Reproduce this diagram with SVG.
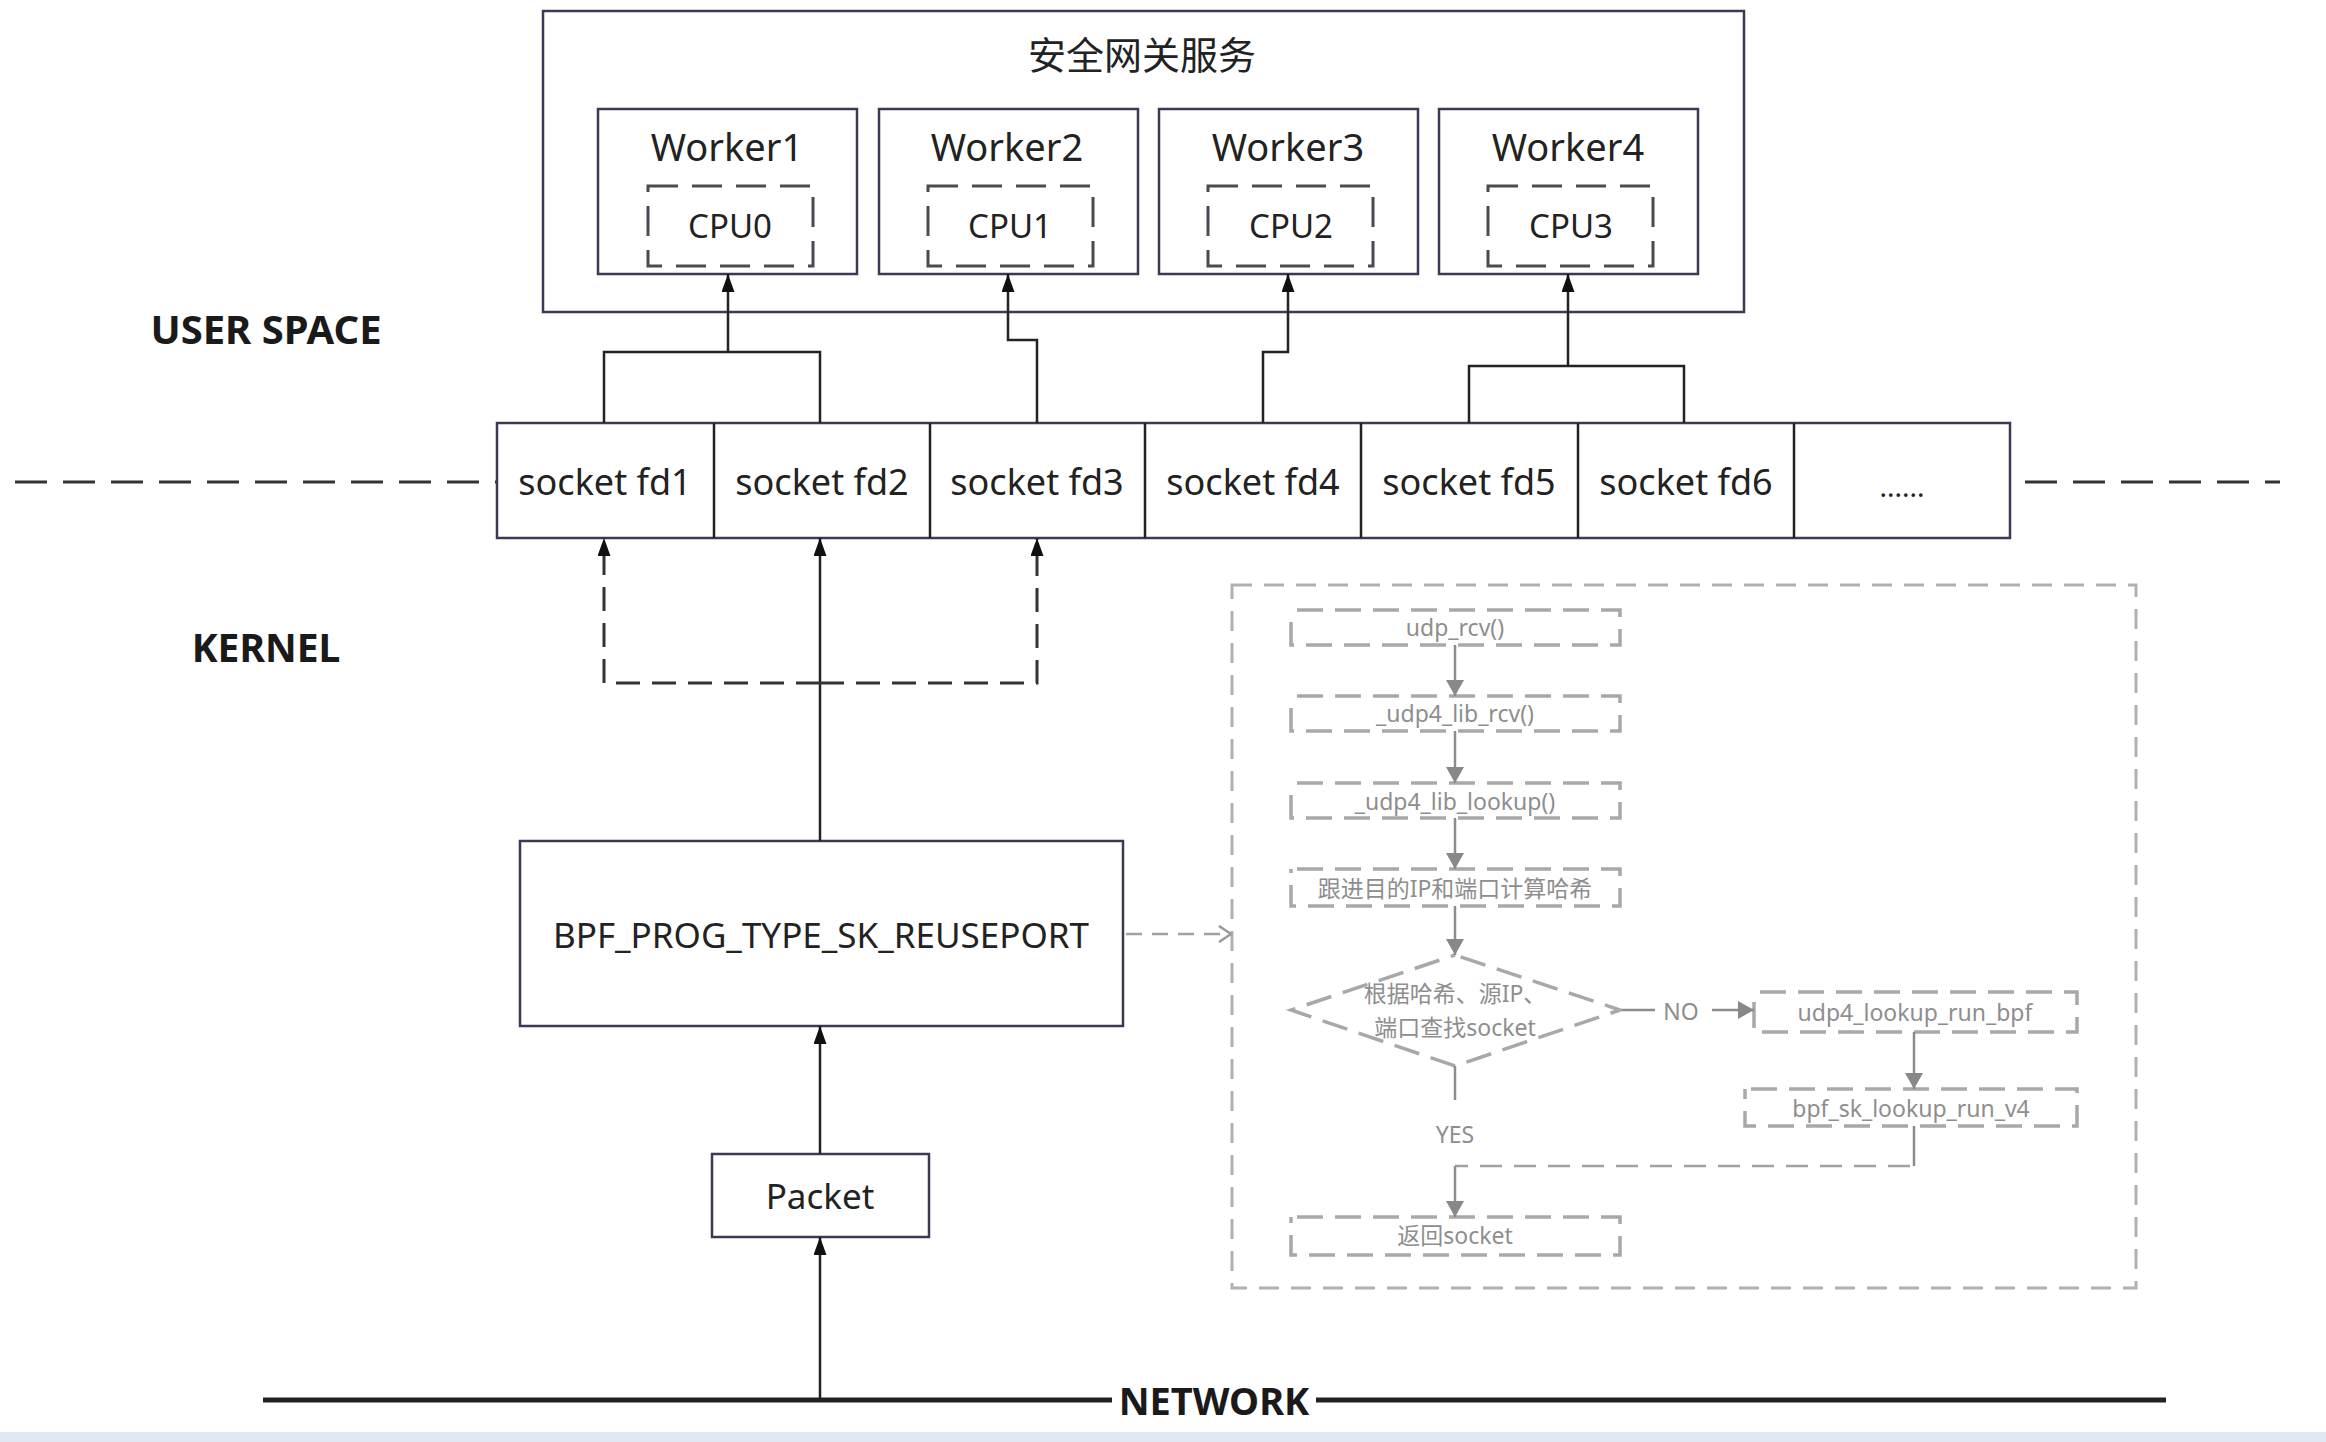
<svg xmlns="http://www.w3.org/2000/svg" width="2326" height="1442" viewBox="0 0 2326 1442">
<defs>
<style>
.t{font-family:"Noto Sans","Noto Sans CJK SC",sans-serif;fill:#222;text-anchor:middle;dominant-baseline:central}
.b{font-weight:bold;fill:#1a1a1a}
.gt{font-family:"Noto Sans","Noto Sans CJK SC",sans-serif;fill:#8e8e8e;text-anchor:middle;dominant-baseline:central;font-size:23px}
.box{fill:#fff;stroke:#3a3a55;stroke-width:2.5}
.cpu{fill:none;stroke:#4a4a55;stroke-width:3;stroke-dasharray:30 14}
.ln{fill:none;stroke:#222;stroke-width:2.5}
.dl{fill:none;stroke:#333;stroke-width:3;stroke-dasharray:24 12}
.sep{fill:none;stroke:#333;stroke-width:3;stroke-dasharray:32 16}
.gb{fill:none;stroke:#a8a8a8;stroke-width:3.5;stroke-dasharray:26 12;stroke-dashoffset:-6}
.gbig{fill:none;stroke:#b0b0b0;stroke-width:3;stroke-dasharray:20 12}
.gl{fill:none;stroke:#8c8c8c;stroke-width:2.5}
.gd{fill:none;stroke:#a0a0a0;stroke-width:2.5;stroke-dasharray:22 12}
</style>
<marker id="ah" viewBox="0 0 18 13" refX="18" refY="6.5" markerWidth="18" markerHeight="13" markerUnits="userSpaceOnUse" orient="auto">
<path d="M0,0 L18,6.5 L0,13 z" fill="#111"/>
</marker>
<marker id="gh" viewBox="0 0 16 18" refX="16" refY="9" markerWidth="16" markerHeight="18" markerUnits="userSpaceOnUse" orient="auto">
<path d="M0,0 L16,9 L0,18 z" fill="#888"/>
</marker>
<marker id="oh" viewBox="0 0 14 18" refX="13" refY="9" markerWidth="14" markerHeight="18" markerUnits="userSpaceOnUse" orient="auto">
<path d="M1,1 L13,9 L1,17" fill="none" stroke="#999" stroke-width="2.5"/>
</marker>
</defs>

<rect x="0" y="0" width="2326" height="1442" fill="#fff"/>
<rect x="0" y="1432" width="2326" height="10" fill="#dfe7f3"/>

<!-- layer labels and separators -->
<g id="labels">
<text class="t b" x="266" y="328" font-size="40">USER SPACE</text>
<text class="t b" x="266" y="646" font-size="39">KERNEL</text>
<line class="sep" x1="15" y1="482" x2="497" y2="482"/>
<line class="sep" x1="2025" y1="482" x2="2280" y2="482"/>
</g>

<!-- network -->
<g id="network">
<line x1="263" y1="1400" x2="2166" y2="1400" stroke="#222" stroke-width="5"/>
<rect x="1112" y="1378" width="204" height="44" fill="#fff"/>
<text class="t b" x="1214" y="1400" font-size="38">NETWORK</text>
</g>

<!-- service -->
<g id="service">
<rect class="box" x="543" y="11" width="1201" height="301"/>
<text class="t" x="1142" y="54" font-size="38">安全网关服务</text>
</g>
<g id="worker1">
<rect class="box" x="598" y="109" width="259" height="165"/>
<text class="t" x="727" y="146" font-size="38">Worker1</text>
<rect class="cpu" x="648" y="186" width="165" height="80"/>
<text class="t" x="730" y="225" font-size="33">CPU0</text>
</g>
<g id="worker2">
<rect class="box" x="879" y="109" width="259" height="165"/>
<text class="t" x="1007" y="146" font-size="38">Worker2</text>
<rect class="cpu" x="928" y="186" width="165" height="80"/>
<text class="t" x="1010" y="225" font-size="33">CPU1</text>
</g>
<g id="worker3">
<rect class="box" x="1159" y="109" width="259" height="165"/>
<text class="t" x="1288" y="146" font-size="38">Worker3</text>
<rect class="cpu" x="1208" y="186" width="165" height="80"/>
<text class="t" x="1291" y="225" font-size="33">CPU2</text>
</g>
<g id="worker4">
<rect class="box" x="1439" y="109" width="259" height="165"/>
<text class="t" x="1568" y="146" font-size="38">Worker4</text>
<rect class="cpu" x="1488" y="186" width="165" height="80"/>
<text class="t" x="1571" y="225" font-size="33">CPU3</text>
</g>

<!-- sockets -->
<g id="sockets">
<rect class="box" x="497" y="423" width="1513" height="115"/>
<line class="ln" x1="714" y1="423" x2="714" y2="538" stroke="#3a3a55"/>
<line class="ln" x1="930" y1="423" x2="930" y2="538" stroke="#3a3a55"/>
<line class="ln" x1="1145" y1="423" x2="1145" y2="538" stroke="#3a3a55"/>
<line class="ln" x1="1361" y1="423" x2="1361" y2="538" stroke="#3a3a55"/>
<line class="ln" x1="1578" y1="423" x2="1578" y2="538" stroke="#3a3a55"/>
<line class="ln" x1="1794" y1="423" x2="1794" y2="538" stroke="#3a3a55"/>
<text class="t" x="605" y="481" font-size="36">socket fd1</text>
<text class="t" x="822" y="481" font-size="36">socket fd2</text>
<text class="t" x="1037" y="481" font-size="36">socket fd3</text>
<text class="t" x="1253" y="481" font-size="36">socket fd4</text>
<text class="t" x="1469" y="481" font-size="36">socket fd5</text>
<text class="t" x="1686" y="481" font-size="36">socket fd6</text>
<text class="t" x="1902" y="486" font-size="28">......</text>
</g>

<g id="bpf">
<rect class="box" x="520" y="841" width="603" height="185"/>
<text class="t" x="821" y="934" font-size="35">BPF_PROG_TYPE_SK_REUSEPORT</text>
</g>
<g id="packet">
<rect class="box" x="712" y="1154" width="217" height="83"/>
<text class="t" x="820" y="1195" font-size="35">Packet</text>
</g>

<!-- flowchart -->
<g id="flow-frame">
<rect class="gbig" x="1232" y="585" width="904" height="703"/>
</g>
<g id="f-udp-rcv">
<rect class="gb" x="1291" y="610" width="329" height="35"/>
<text class="gt" x="1455" y="627">udp_rcv()</text>
</g>
<g id="f-udp4-lib-rcv">
<rect class="gb" x="1291" y="696" width="329" height="35"/>
<text class="gt" x="1455" y="713">_udp4_lib_rcv()</text>
</g>
<g id="f-udp4-lib-lookup">
<rect class="gb" x="1291" y="783" width="329" height="35"/>
<text class="gt" x="1455" y="801">_udp4_lib_lookup()</text>
</g>
<g id="f-hash">
<rect class="gb" x="1291" y="869" width="329" height="37"/>
<text class="gt" x="1455" y="888">跟进目的IP和端口计算哈希</text>
</g>
<g id="f-decision">
<polygon class="gb" points="1455,955 1620,1010 1455,1066 1291,1010"/>
<text class="gt" x="1455" y="993">根据哈希、源IP、</text>
<text class="gt" x="1455" y="1027">端口查找socket</text>
</g>
<g id="f-run-bpf">
<rect class="gb" x="1754" y="992" width="323" height="40"/>
<text class="gt" x="1915" y="1012">udp4_lookup_run_bpf</text>
</g>
<g id="f-sk-lookup">
<rect class="gb" x="1745" y="1089" width="332" height="37"/>
<text class="gt" x="1911" y="1108">bpf_sk_lookup_run_v4</text>
</g>
<g id="f-return">
<rect class="gb" x="1291" y="1217" width="329" height="38"/>
<text class="gt" x="1455" y="1235">返回socket</text>
</g>

<!-- connectors -->
<g id="connectors">
<polyline class="ln" points="604,423 604,352 820,352 820,423"/>
<line class="ln" x1="728" y1="352" x2="728" y2="274" marker-end="url(#ah)"/>
<polyline class="ln" points="1037,423 1037,340 1008,340 1008,274" marker-end="url(#ah)"/>
<polyline class="ln" points="1263,423 1263,352 1288,352 1288,274" marker-end="url(#ah)"/>
<polyline class="ln" points="1469,423 1469,366 1684,366 1684,423"/>
<line class="ln" x1="1568" y1="366" x2="1568" y2="274" marker-end="url(#ah)"/>
<line class="ln" x1="820" y1="841" x2="820" y2="538" marker-end="url(#ah)"/>
<polyline class="dl" points="820,683 604,683 604,538" marker-end="url(#ah)"/>
<polyline class="dl" points="820,683 1037,683 1037,538" marker-end="url(#ah)"/>
<line class="ln" x1="820" y1="1154" x2="820" y2="1026" marker-end="url(#ah)"/>
<line class="ln" x1="820" y1="1400" x2="820" y2="1237" marker-end="url(#ah)"/>
<line x1="1126" y1="934" x2="1231" y2="934" stroke="#a0a0a0" stroke-width="2.5" stroke-dasharray="16 10" marker-end="url(#oh)"/>
<line class="gl" x1="1455" y1="645" x2="1455" y2="696" marker-end="url(#gh)"/>
<line class="gl" x1="1455" y1="731" x2="1455" y2="783" marker-end="url(#gh)"/>
<line class="gl" x1="1455" y1="818" x2="1455" y2="869" marker-end="url(#gh)"/>
<line class="gl" x1="1455" y1="906" x2="1455" y2="955" marker-end="url(#gh)"/>
<line class="gl" x1="1622" y1="1010" x2="1655" y2="1010"/>
<text class="gt" x="1681" y="1011">NO</text>
<line class="gl" x1="1712" y1="1010" x2="1754" y2="1010" marker-end="url(#gh)"/>
<line class="gl" x1="1914" y1="1032" x2="1914" y2="1089" marker-end="url(#gh)"/>
<line class="gl" x1="1455" y1="1066" x2="1455" y2="1100"/>
<text class="gt" x="1455" y="1134">YES</text>
<line class="gl" x1="1914" y1="1126" x2="1914" y2="1166"/>
<line class="gd" x1="1910" y1="1166" x2="1455" y2="1166"/>
<line class="gl" x1="1455" y1="1166" x2="1455" y2="1217" marker-end="url(#gh)"/>
</g>
</svg>
